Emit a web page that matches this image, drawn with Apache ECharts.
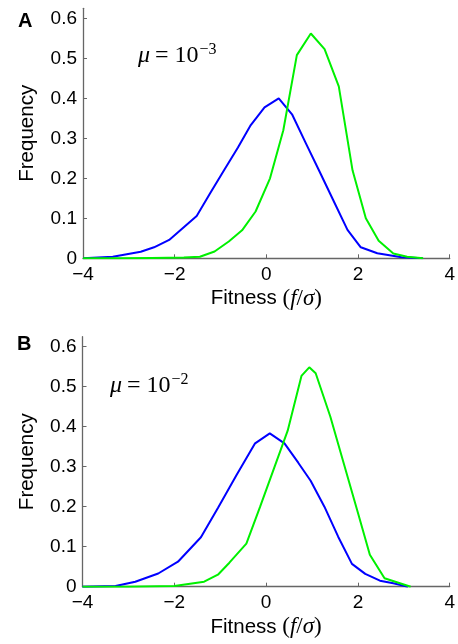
<!DOCTYPE html>
<html>
<head>
<meta charset="utf-8">
<script src="https://cdn.jsdelivr.net/npm/echarts@6/dist/echarts.min.js"></script>
<style>
html,body{margin:0;padding:0;background:#fff;}
#chart{width:458px;height:644px;}
</style>
</head>
<body>
<div id="chart"></div>
<script>
// ---- Data ----
var xTicks = [-4, -2, 0, 2, 4];
var yTicks = [0, 0.1, 0.2, 0.3, 0.4, 0.5, 0.6];

// Panel A (mu = 1e-3)
var xBlueA = [-4, -3.35, -2.74, -2.45, -2.12, -1.82, -1.52, -1.22, -0.92, -0.62, -0.34, -0.04, 0.27, 0.56, 0.86, 1.16, 1.46, 1.77, 2.06, 2.42, 2.95, 3.41];
var yBlueA = [0, 0.004, 0.0165, 0.0275, 0.046, 0.076, 0.106, 0.164, 0.221, 0.277, 0.333, 0.3775, 0.40, 0.36, 0.288, 0.217, 0.145, 0.071, 0.0275, 0.0125, 0.0025, 0];
var xGreenA = [-4, -3.2, -2.5, -1.8, -1.45, -1.13, -0.82, -0.53, -0.235, 0.08, 0.37, 0.665, 0.97, 1.27, 1.58, 1.88, 2.17, 2.45, 2.77, 3.07, 3.42];
var yGreenA = [0, 0, 0.001, 0.002, 0.004, 0.017, 0.042, 0.07, 0.117, 0.2, 0.32, 0.508, 0.562, 0.523, 0.43, 0.22, 0.1, 0.044, 0.012, 0.004, 0];

// Panel B (mu = 1e-2)
var xBlueB = [-4, -3.28, -2.85, -2.35, -1.92, -1.42, -1.05, -0.65, -0.24, 0.08, 0.40, 0.70, 0.97, 1.27, 1.57, 1.87, 2.16, 2.48, 2.77, 3.09];
var yBlueB = [0, 0.002, 0.0125, 0.033, 0.0625, 0.1235, 0.197, 0.278, 0.3585, 0.3835, 0.3585, 0.31, 0.265, 0.2, 0.125, 0.057, 0.032, 0.015, 0.0085, 0];
var xGreenB = [-4, -3, -2, -1.35, -1.05, -0.8, -0.43, -0.13, 0.17, 0.47, 0.77, 0.94, 1.08, 1.40, 1.7, 2.0, 2.26, 2.58, 3.15];
var yGreenB = [0, 0, 0.002, 0.0125, 0.03, 0.06, 0.1075, 0.2, 0.295, 0.39, 0.527, 0.5485, 0.5335, 0.425, 0.305, 0.185, 0.08, 0.021, 0];

function zip(xs, ys) { return xs.map(function (x, i) { return [x, ys[i]]; }); }

var sans = 'Liberation Sans';
var serif = 'Liberation Serif';
var axisColor = '#666';

function xAxisCfg(gridIndex) {
  return {
    type: 'value', gridIndex: gridIndex, min: -4, max: 4, interval: 2,
    axisLine: { onZero: false, lineStyle: { color: axisColor, width: 1.3 } },
    axisTick: { inside: true, length: 4, lineStyle: { color: axisColor } },
    splitLine: { show: false },
    axisLabel: {
      color: '#000', fontFamily: sans, fontSize: 19, margin: 7,
      customValues: xTicks,
      formatter: function (v) { return String(v).replace('-', '\u2212'); }
    },
    name: '{a|Fitness }{b|(}{c|f}{b|/}{c|\u03c3}{b|)}',
    nameLocation: 'middle', nameGap: 29,
    nameTextStyle: {
      rich: {
        a: { fontFamily: sans, fontSize: 20.5, color: '#000' },
        b: { fontFamily: serif, fontSize: 23, color: '#000' },
        c: { fontFamily: serif, fontStyle: 'italic', fontSize: 23, color: '#000' }
      }
    }
  };
}
function yAxisCfg(gridIndex) {
  return {
    type: 'value', gridIndex: gridIndex, min: 0, max: 0.625, interval: 0.1,
    axisLine: { show: true, onZero: false, lineStyle: { color: axisColor, width: 1.3 } },
    axisTick: { show: true, inside: true, length: 4, customValues: yTicks, lineStyle: { color: axisColor } },
    splitLine: { show: false },
    axisLabel: { color: '#000', fontFamily: sans, fontSize: 19, margin: 6, customValues: yTicks },
    name: 'Frequency', nameLocation: 'middle', nameGap: 45,
    nameTextStyle: { fontFamily: sans, fontSize: 20.5, color: '#000' }
  };
}
function lineSeries(data, color, xi) {
  return {
    type: 'line', xAxisIndex: xi, yAxisIndex: xi, data: data,
    showSymbol: false, symbol: 'none', animation: false,
    lineStyle: { color: color, width: 2 }, z: 3
  };
}
function muText(exp, left, top) {
  return {
    text: '{m|\u03bc} {t|= 10}{s|\u2212' + exp + '}', left: left, top: top, padding: 0,
    textStyle: { fontWeight: 'normal', rich: {
      m: { fontFamily: serif, fontStyle: 'italic', fontWeight: 'normal', fontSize: 24, color: '#000' },
      t: { fontFamily: serif, fontWeight: 'normal', fontSize: 24, color: '#000' },
      s: { fontFamily: serif, fontWeight: 'normal', fontSize: 16, color: '#000', verticalAlign: 'top', padding: [0, 0, 12, 1] }
    } }
  };
}

var chart = echarts.init(document.getElementById('chart'), null, { renderer: 'canvas' });
chart.setOption({
  backgroundColor: '#fff',
  animation: false,
  grid: [
    { left: 83, right: 2, top: 8.3, bottom: 385.7 },
    { left: 82.5, right: 3, top: 336.7, bottom: 57.3 }
  ],
  xAxis: [xAxisCfg(0), xAxisCfg(1)],
  yAxis: [yAxisCfg(0), yAxisCfg(1)],
  title: [
    { text: 'A', left: 18, top: 11, padding: 0, textStyle: { fontFamily: sans, fontWeight: 'bold', fontSize: 20, color: '#000' } },
    { text: 'B', left: 17, top: 334, padding: 0, textStyle: { fontFamily: sans, fontWeight: 'bold', fontSize: 20, color: '#000' } },
    muText('3', 138, 42),
    muText('2', 110, 372)
  ],
  series: [
    lineSeries(zip(xBlueA, yBlueA), '#0000ff', 0),
    lineSeries(zip(xGreenA, yGreenA), '#00f000', 0),
    lineSeries(zip(xBlueB, yBlueB), '#0000ff', 1),
    lineSeries(zip(xGreenB, yGreenB), '#00f000', 1)
  ]
});
</script>
</body>
</html>
